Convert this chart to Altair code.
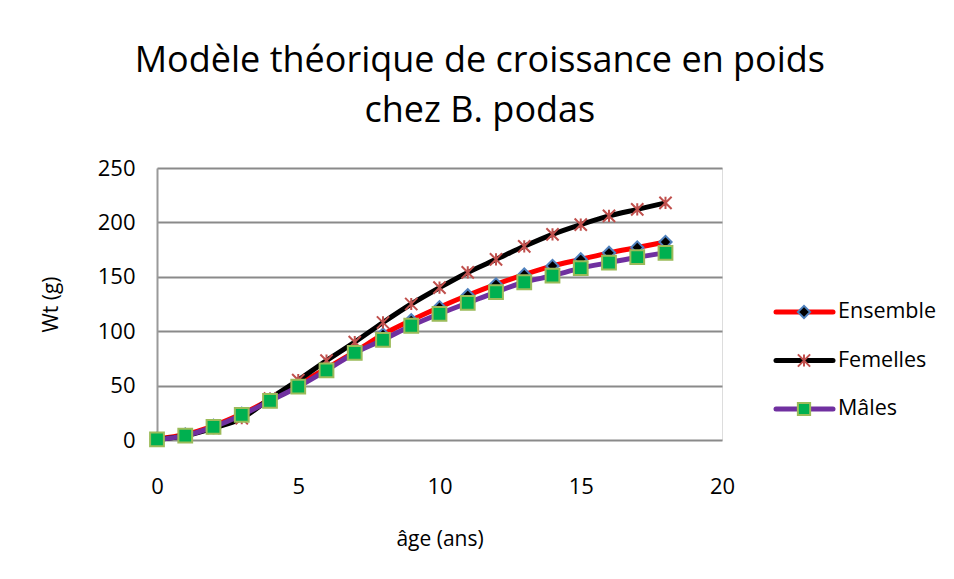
import altair as alt
import pandas as pd

ages = list(range(0, 19))
ensemble = [1, 5, 13, 24, 37, 51, 66, 81, 97, 110, 122, 133, 143, 152, 160, 166, 172, 177, 182]
femelles = [0.5, 4, 11, 20, 38, 55, 73, 90, 108, 125, 140, 154, 166, 178, 189, 198, 206, 212, 218]
males = [0.5, 4, 12, 23, 36, 49, 64, 80, 92, 105, 116, 126, 136, 145, 151, 158, 163, 168, 172]

series_names = ["Ensemble", "Femelles", "Mâles"]
series_values = [ensemble, femelles, males]
line_colors = ["#ff0000", "#000000", "#7030a0"]
marker_shapes = ["diamond", "M-1,-1L1,1M1,-1L-1,1M0,-1L0,1", "square"]
marker_fills = ["#000000", "transparent", "#00b050"]
marker_strokes = ["#4f81bd", "#c0504d", "#9bbb59"]
marker_sizes = [150, 150, 190]

x_ticks = [0, 5, 10, 15, 20]
y_ticks = [0, 50, 100, 150, 200, 250]

FONT = "Open Sans"

rows = []
for name, vals in zip(series_names, series_values):
    for a, v in zip(ages, vals):
        rows.append({"age": a, "wt": v, "series": name})
df = pd.DataFrame(rows)

xenc = alt.X("age:Q", scale=alt.Scale(domain=[0, 20]),
             axis=alt.Axis(values=x_ticks, title="âge (ans)", grid=False, domain=False,
                           ticks=False, labelPadding=36, titlePadding=31, labelFlush=False,
                           labelFontSize=22, titleFontSize=21, labelFont=FONT, titleFont=FONT,
                           labelColor="#000", titleColor="#000", titleFontWeight="normal"))
yenc = alt.Y("wt:Q", scale=alt.Scale(domain=[0, 250]),
             axis=alt.Axis(values=y_ticks, title="Wt (g)", grid=True, gridColor="#8a8a8a",
                           gridWidth=2, domain=True, domainColor="#9a9a9a", domainWidth=2,
                           ticks=False, labelPadding=22, titlePadding=36,
                           labelFontSize=22, titleFontSize=21, labelFont=FONT, titleFont=FONT,
                           labelColor="#000", titleColor="#000", titleFontWeight="normal"))

base = alt.Chart(df)
layers = []
for i, name in enumerate(series_names):
    sub = base.transform_filter(alt.datum.series == name)
    layers.append(sub.mark_line(color=line_colors[i], strokeWidth=5, interpolate="monotone")
                  .encode(x=xenc, y=yenc))
    layers.append(sub.mark_point(shape=marker_shapes[i], filled=True, fill=marker_fills[i],
                                 stroke=marker_strokes[i], strokeWidth=2, size=marker_sizes[i],
                                 opacity=1)
                  .encode(x=xenc, y=yenc))

main = alt.layer(*layers).properties(width=565, height=272)

leg_df = pd.DataFrame({"series": series_names, "idx": list(range(len(series_names)))})
ysc = alt.Y("idx:Q", scale=alt.Scale(domain=[0, 2], range=[144, 241]), axis=None)
leg_base = alt.Chart(leg_df)
leg_rule = leg_base.mark_rule(strokeWidth=5, strokeCap="round").encode(
    x=alt.value(0), x2=alt.value(57), y=ysc,
    color=alt.Color("series:N", scale=alt.Scale(domain=series_names, range=line_colors), legend=None))
leg_pt = leg_base.mark_point(filled=True, strokeWidth=2, size=150, opacity=1).encode(
    x=alt.value(28), y=ysc,
    shape=alt.Shape("series:N", scale=alt.Scale(domain=series_names, range=marker_shapes), legend=None),
    fill=alt.Fill("series:N", scale=alt.Scale(domain=series_names, range=marker_fills), legend=None),
    stroke=alt.Stroke("series:N", scale=alt.Scale(domain=series_names, range=marker_strokes), legend=None))
leg_txt = leg_base.mark_text(align="left", baseline="middle", font=FONT, fontSize=21.5, color="#000").encode(
    x=alt.value(62), y=ysc, text="series:N")
legend = alt.layer(leg_rule, leg_pt, leg_txt).properties(
    width=150, height=272, view=alt.ViewBackground(stroke="transparent", strokeWidth=0)
).resolve_scale(color="independent", shape="independent", fill="independent", stroke="independent")

chart = alt.hconcat(main, legend, spacing=37).resolve_scale(
    color="independent", shape="independent", fill="independent", stroke="independent"
).properties(
    title=alt.TitleParams(["Modèle théorique de croissance en poids", "chez B. podas"],
                          font=FONT, fontSize=36, fontWeight="normal", color="#000",
                          anchor="middle", lineHeight=50, offset=27, dx=-8),
    padding={"left": 31, "top": 34, "right": 0, "bottom": 5},
).configure_view(strokeWidth=0, stroke="transparent").configure(background="white")

chart.save("out.html", embed_options={"renderer": "svg", "actions": False})
